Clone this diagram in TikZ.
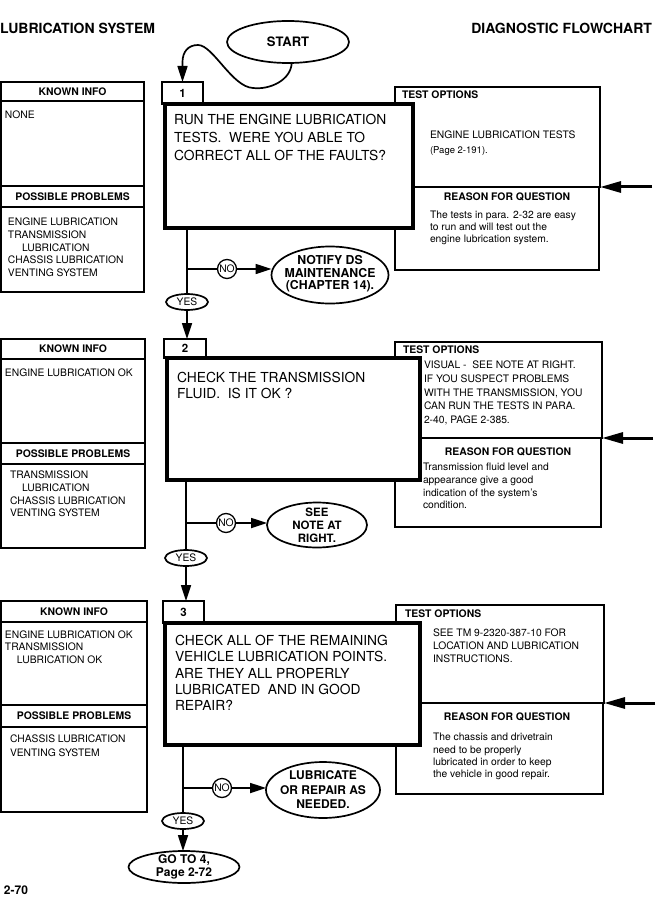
\documentclass[tikz,border=0pt]{standalone}
\usepackage{fontspec}
\setmainfont{TeX Gyre Heros}
\usetikzlibrary{shapes.geometric,arrows.meta}
\newcommand\rectnd[7]{\node[#6, minimum width={#4-#2}, minimum height={#5-#3}] (#1) at ({(#2+#4)/2},{(#3+#5)/2}) {#7};}
\tikzset{
  flowtip/.tip={Triangle[length=16pt,width=10pt,black]},
  bigtip/.tip={Triangle[length=21pt,width=11pt,black]}}
\begin{document}
\begin{tikzpicture}[x=1pt,y=-1pt,
  every node/.style={outer sep=0pt, inner sep=0pt},
  thinbox/.style={draw, line width=1.2pt, fill=white},
  mainbox/.style={draw, line width=3.8pt, fill=white},
  conn/.style={line width=1.7pt},
  oval/.style={draw, ellipse, line width=1.7pt, fill=white},
  hdr/.style={font=\fontsize{10.4}{12}\selectfont\bfseries},
  small/.style={font=\fontsize{10.3}{12.6}\selectfont, align=left, anchor=north west},
  qtext/.style={font=\fontsize{13.8}{16.3}\selectfont, align=left, anchor=north west},
  ovtext/.style={font=\fontsize{12}{13}\selectfont\bfseries, align=center},
  yesno/.style={font=\fontsize{10.3}{10}\selectfont},
  tabnum/.style={thinbox, font=\fontsize{11.5}{12}\selectfont\bfseries},
  title/.style={font=\fontsize{14}{14}\selectfont\bfseries, anchor=east}]
\fill[white] (0,0) rectangle (663,904);
\useasboundingbox (0,0) rectangle (663,904);

% titles
\node[title] (tl) at (155,28) {LUBRICATION SYSTEM};
\node[title] (tr) at (652,28) {DIAGNOSTIC FLOWCHART};

% ---------- row 1 ----------
\rectnd{kh1}{1}{82}{144}{101}{thinbox,hdr}{KNOWN INFO}
\rectnd{kb1}{1}{101}{144}{186}{thinbox}{}
\rectnd{ph1}{1}{186}{144}{207}{thinbox,hdr}{POSSIBLE PROBLEMS}
\rectnd{pb1}{1}{207}{144}{292}{thinbox}{}
\node[small] (kt1) at (5,111.3) {NONE};
\node[small] (pt1) at (8,218.3) {ENGINE LUBRICATION\\TRANSMISSION\\\hspace*{14pt}LUBRICATION\\CHASSIS LUBRICATION\\VENTING SYSTEM};

\rectnd{to1}{395}{87}{600}{187}{thinbox}{}
\rectnd{rq1}{395}{187}{599}{270}{thinbox}{}
\node[hdr, anchor=north west] (toh1) at (402,91.2) {TEST OPTIONS};
\node[small, font=\fontsize{10.3}{15}\selectfont] (tot1) at (430,131.2) {ENGINE LUBRICATION TESTS\\{\fontsize{9.5}{15}\selectfont (Page 2-191).}};
\node[hdr, anchor=north] (rqh1) at (507,193.2) {REASON FOR QUESTION};
\node[small, font=\fontsize{10.3}{12}\selectfont] (rqt1) at (430,211.2) {The tests in para. 2-32 are easy\\to run and will test out the\\engine lubrication system.};
\coordinate (ra1) at (652,187);
\draw[line width=3pt, -bigtip] (ra1) -- (to1.south east);

\rectnd{tab1}{162}{82}{203}{104}{tabnum}{1}
\rectnd{mb1}{165}{104}{413}{228}{mainbox}{}
\node[qtext, font=\fontsize{13.8}{18}\selectfont] (q1) at (174,114.1) {RUN THE ENGINE LUBRICATION\\TESTS.\ \ WERE YOU ABLE TO\\CORRECT ALL OF THE FAULTS?};

\node[oval, minimum width=122, minimum height=42, font=\fontsize{13}{13}\selectfont\bfseries] (start) at (288,42) {START};

\node[oval, yesno, minimum width=42, minimum height=16] (yes1) at (187,302) {YES};
\node[draw, circle, line width=1.3pt, minimum size=19, yesno, fill=white] (no1) at (227,269) {NO};
\node[oval, minimum width=117, minimum height=57] (notify) at (330,275) {};
\node[ovtext, font=\fontsize{12.3}{12.6}\selectfont\bfseries] (notifyt) at (330,274) {NOTIFY DS\\MAINTENANCE\\(CHAPTER 14).};

% ---------- row 2 ----------
\rectnd{kh2}{1}{339}{145}{359}{thinbox,hdr}{KNOWN INFO}
\rectnd{kb2}{1}{359}{145}{443}{thinbox}{}
\rectnd{ph2}{1}{443}{145}{464}{thinbox,hdr}{POSSIBLE PROBLEMS}
\rectnd{pb2}{1}{464}{145}{548}{thinbox}{}
\node[small] (kt2) at (5,369.3) {ENGINE LUBRICATION OK};
\node[small] (pt2) at (10,471.3) {TRANSMISSION\\\hspace*{12pt}LUBRICATION\\CHASSIS LUBRICATION\\VENTING SYSTEM};

\rectnd{to2}{395}{342}{602}{438}{thinbox}{}
\rectnd{rq2}{395}{438}{601}{527}{thinbox}{}
\node[hdr, anchor=north west] (toh2) at (403,346.2) {TEST OPTIONS};
\node[small, font=\fontsize{10.3}{13.7}\selectfont] (tot2) at (424,361.2) {VISUAL -\ \ SEE NOTE AT RIGHT.\\IF YOU SUSPECT PROBLEMS\\WITH THE TRANSMISSION, YOU\\CAN RUN THE TESTS IN PARA.\\2-40, PAGE 2-385.};
\node[hdr, anchor=north] (rqh2) at (508,448.2) {REASON FOR QUESTION};
\node[small, font=\fontsize{10.3}{12.7}\selectfont] (rqt2) at (423,463.2) {Transmission fluid level and\\appearance give a good\\indication of the system's\\condition.};
\coordinate (ra2) at (653,438);
\draw[line width=3pt, -bigtip] (ra2) -- (to2.south east);

\rectnd{tab2}{164}{339}{206}{358}{tabnum}{2}
\rectnd{mb2}{167}{358}{420}{480}{mainbox}{}
\node[qtext] (q2) at (177,372.1) {CHECK THE TRANSMISSION\\FLUID.\ \ IS IT OK ?};

\node[oval, yesno, minimum width=42, minimum height=16] (yes2) at (186,558) {YES};
\node[draw, circle, line width=1.3pt, minimum size=19, yesno, fill=white] (no2) at (226,523) {NO};
\node[oval, minimum width=100, minimum height=45] (see) at (317,525) {};
\node[ovtext, font=\fontsize{11.5}{13}\selectfont\bfseries] (seet) at (see) {SEE\\NOTE AT\\RIGHT.};

% ---------- row 3 ----------
\rectnd{kh3}{1}{601}{147}{622}{thinbox,hdr}{KNOWN INFO}
\rectnd{kb3}{1}{622}{147}{705}{thinbox}{}
\rectnd{ph3}{1}{705}{147}{727}{thinbox,hdr}{POSSIBLE PROBLEMS}
\rectnd{pb3}{1}{727}{147}{812}{thinbox}{}
\node[small] (kt3) at (5,630.3) {ENGINE LUBRICATION OK\\TRANSMISSION\\\hspace*{12pt}LUBRICATION OK};
\node[small, font=\fontsize{10.3}{14}\selectfont] (pt3) at (10,734.3) {CHASSIS LUBRICATION\\VENTING SYSTEM};

\rectnd{to3}{396}{605}{604}{703}{thinbox}{}
\rectnd{rq3}{396}{703}{603}{794}{thinbox}{}
\node[hdr, anchor=north west] (toh3) at (405,610.2) {TEST OPTIONS};
\node[small, font=\fontsize{10.3}{13}\selectfont] (tot3) at (433,629.2) {SEE TM 9-2320-387-10 FOR\\LOCATION AND LUBRICATION\\INSTRUCTIONS.};
\node[hdr, anchor=north] (rqh3) at (507,713.2) {REASON FOR QUESTION};
\node[small, font=\fontsize{10.3}{12.3}\selectfont] (rqt3) at (433,733.2) {The chassis and drivetrain\\need to be properly\\lubricated in order to keep\\the vehicle in good repair.};
\coordinate (ra3) at (655,703);
\draw[line width=3pt, -bigtip] (ra3) -- (to3.south east);

\rectnd{tab3}{163}{601}{204}{623}{tabnum}{3}
\rectnd{mb3}{165}{623}{420}{745}{mainbox}{}
\node[qtext] (q3) at (175,635.1) {CHECK ALL OF THE REMAINING\\VEHICLE LUBRICATION POINTS.\\ARE THEY ALL PROPERLY\\LUBRICATED\ \ AND IN GOOD\\REPAIR?};

\node[oval, yesno, minimum width=42, minimum height=16] (yes3) at (183,821) {YES};
\node[draw, circle, line width=1.3pt, minimum size=19, yesno, fill=white] (no3) at (222,788) {NO};
\node[oval, minimum width=114, minimum height=56] (lub) at (323,790) {};
\node[ovtext, font=\fontsize{12}{14.5}\selectfont\bfseries] (lubt) at (lub) {LUBRICATE\\OR REPAIR AS\\NEEDED.};
\node[oval, minimum width=111, minimum height=32] (goto) at (184,867) {};
\node[ovtext] (gotot) at (goto) {GO TO 4,\\Page 2-72};

\node[anchor=west, font=\fontsize{12}{12}\selectfont\bfseries] (pg) at (4,890) {2-70};

% ---------- connectors ----------
\draw[conn, -flowtip] (start.280) .. controls (291,80) and (270,90) .. (253,88)
  .. controls (232,87) and (213,45) .. (198,45)
  .. controls (188,45) and (182.5,52) .. (182.5,62) -- (tab1.north);

\draw[conn] (mb1.south -| yes1) -- (yes1.north);
\draw[conn, -flowtip] (yes1.south) -- (yes1.south |- tab2.north);
\draw[conn] (no1 -| yes1) -- (no1.west);
\draw[conn, -flowtip] (no1.east) -- (no1 -| notify.west);

\draw[conn] (mb2.south -| yes2) -- (yes2.north);
\draw[conn, -flowtip] (yes2.south) -- (yes2.south |- tab3.north);
\draw[conn] (no2 -| yes2) -- (no2.west);
\draw[conn, -flowtip] (no2.east) -- (no2 -| see.west);

\draw[conn] (mb3.south -| yes3) -- (yes3.north);
\draw[conn, -flowtip] (yes3.south) -- (yes3.south |- goto.north);
\draw[conn] (no3 -| yes3) -- (no3.west);
\draw[conn, -flowtip] (no3.east) -- (no3 -| lub.west);
\end{tikzpicture}
\end{document}
